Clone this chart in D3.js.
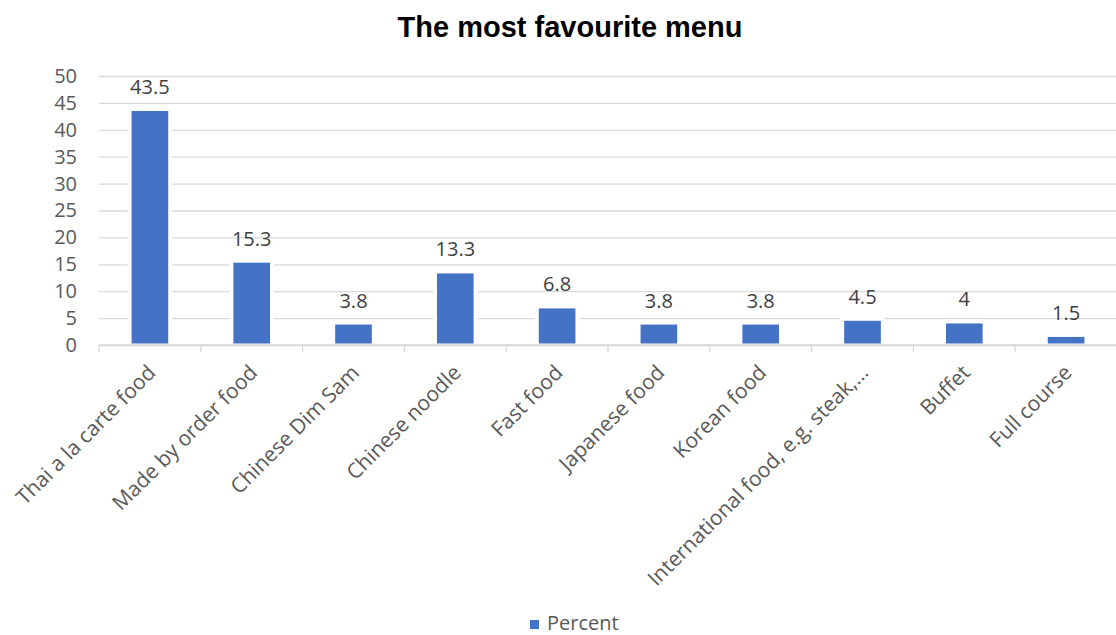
<!DOCTYPE html>
<html>
<head>
<meta charset="utf-8">
<script src="https://cdn.jsdelivr.net/npm/d3@7"></script>
<style>
  html, body { margin: 0; padding: 0; background: #fff; }
  svg text { font-family: "Open Sans", sans-serif; }
</style>
</head>
<body>
<svg id="chart" width="1116" height="635"></svg>
<script>
// Survey results: most favourite menu (percent of respondents)
const categories = [
  "Thai a la carte food",
  "Made by order food",
  "Chinese Dim Sam",
  "Chinese noodle",
  "Fast food",
  "Japanese food",
  "Korean food",
  "International food, e.g. steak,…",
  "Buffet",
  "Full course"
];
const percent = [43.5, 15.3, 3.8, 13.3, 6.8, 3.8, 3.8, 4.5, 4, 1.5];
const yTicks = [0, 5, 10, 15, 20, 25, 30, 35, 40, 45, 50];
const seriesName = "Percent";
const chartTitle = "The most favourite menu";

const svg = d3.select("#chart");
const plotLeft = 99, plotRight = 1117, plotTop = 76, plotBottom = 345;

const x = d3.scaleBand().domain(categories).range([plotLeft, plotRight]).paddingInner(0.64).paddingOuter(0.32);
const xEdges = d3.scaleLinear().domain([0, categories.length]).range([plotLeft, plotRight]);
const y = d3.scaleLinear().domain([0, 50]).range([plotBottom, plotTop]);

const gridColor = "#d9d9d9";
const textColor = "#595959";
const barColor = "#4472c4";

// Title
svg.append("text")
  .attr("x", 570).attr("y", 37)
  .attr("text-anchor", "middle")
  .style("font-family", "Arial, 'Liberation Sans', sans-serif")
  .style("font-weight", "bold")
  .style("font-size", "29px")
  .attr("fill", "#000")
  .text(chartTitle);

// Horizontal gridlines
const yAxis = d3.axisLeft(y).tickValues(yTicks).tickSize(-(plotRight - plotLeft)).tickPadding(22);
const gy = svg.append("g").attr("transform", `translate(${plotLeft},0)`).call(yAxis);
gy.select(".domain").remove();
gy.selectAll(".tick line").attr("stroke", gridColor).attr("stroke-width", 1.3);
gy.selectAll(".tick text")
  .attr("fill", textColor)
  .style("font-size", "20px")
  .style("font-family", "'Open Sans', sans-serif");

// Category axis line and boundary ticks
svg.append("line")
  .attr("x1", plotLeft).attr("x2", plotRight)
  .attr("y1", y(0)).attr("y2", y(0))
  .attr("stroke", gridColor).attr("stroke-width", 1.3);
svg.append("g").selectAll("line")
  .data(d3.range(categories.length + 1))
  .join("line")
  .attr("x1", d => xEdges(d)).attr("x2", d => xEdges(d))
  .attr("y1", y(0)).attr("y2", y(0) + 7)
  .attr("stroke", gridColor).attr("stroke-width", 1.3);

// Bars, each with a white halo that breaks the gridlines
const bars = svg.append("g");
bars.selectAll("rect.halo")
  .data(percent)
  .join("rect")
  .attr("class", "halo")
  .attr("x", (d, i) => x(categories[i]) - 4)
  .attr("y", d => y(d) - 4)
  .attr("width", x.bandwidth() + 8)
  .attr("height", d => y(0) - y(d) + 3)
  .attr("fill", "#fff");
bars.selectAll("rect.bar")
  .data(percent)
  .join("rect")
  .attr("class", "bar")
  .attr("x", (d, i) => x(categories[i]))
  .attr("y", d => y(d))
  .attr("width", x.bandwidth())
  .attr("height", d => y(0) - y(d) - 1.5)
  .attr("fill", barColor);

// Value labels
svg.append("g").selectAll("text")
  .data(percent)
  .join("text")
  .attr("x", (d, i) => x(categories[i]) + x.bandwidth() / 2)
  .attr("y", d => y(d) - 17)
  .attr("text-anchor", "middle")
  .attr("fill", "#404040")
  .style("font-size", "20px")
  .text(d => d);

// Rotated category labels
svg.append("g").selectAll("text")
  .data(categories)
  .join("text")
  .attr("transform", d => `translate(${x(d) + x.bandwidth() / 2 + 7},${y(0) + 29}) rotate(-45)`)
  .attr("text-anchor", "end")
  .attr("fill", textColor)
  .style("font-size", "21px")
  .text(d => d);

// Legend
const legend = svg.append("g").attr("transform", "translate(530,620)");
legend.append("rect").attr("x", 0).attr("y", 0).attr("width", 9).attr("height", 9).attr("fill", barColor);
legend.append("text").attr("x", 17).attr("y", 10).attr("fill", textColor)
  .style("font-size", "20px").text(seriesName);
</script>
</body>
</html>
